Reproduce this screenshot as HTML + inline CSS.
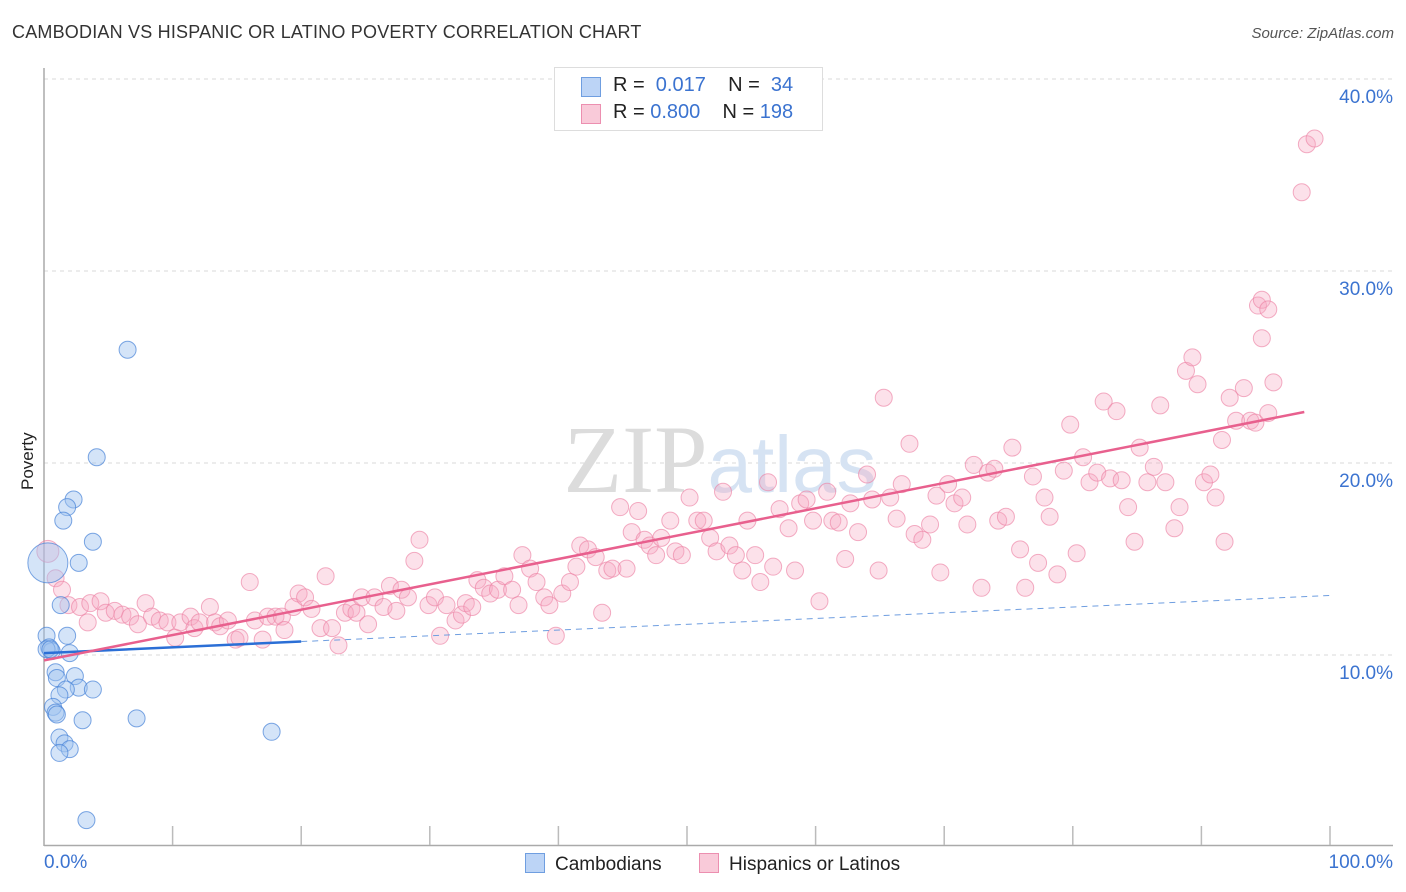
<!DOCTYPE html>
<html><head><meta charset="utf-8"><style>
body{margin:0;background:#fff;font-family:"Liberation Sans",sans-serif;}
#wrap{position:relative;width:1406px;height:892px;overflow:hidden;}
.t{position:absolute;white-space:nowrap;}
</style></head><body>
<div id="wrap">
<div class="t" style="left:12px;top:22px;font-size:18px;color:#333;letter-spacing:0.2px">CAMBODIAN VS HISPANIC OR LATINO POVERTY CORRELATION CHART</div>
<div class="t" style="right:12px;top:25px;font-size:15px;color:#555;font-style:italic">Source: ZipAtlas.com</div>
<svg id="svg" width="1406" height="892" style="position:absolute;left:0;top:0"></svg>
</div>
<script>
const xTicksPct=[0,10,20,30,40,50,60,70,80,90,100];
const yTicks=[10,20,30,40];
const yTickLabels=["10.0%","20.0%","30.0%","40.0%"];
const blueX=[6.5,4.1,2.3,1.8,1.5,3.8,2.7,1.3,1.8,0.2,0.4,0.6,2.0,0.9,1.0,2.4,2.7,3.8,1.7,1.2,0.7,0.9,1.0,3.0,7.2,17.7,1.2,1.6,2.0,1.2,3.3,0.2,0.5,0.3];
const blueY=[25.9,20.3,18.1,17.7,17.0,15.9,14.8,12.6,11.0,11.0,10.4,10.2,10.1,9.1,8.8,8.9,8.3,8.2,8.2,7.9,7.3,7.0,6.9,6.6,6.7,6.0,5.7,5.4,5.1,4.9,1.4,10.3,10.3,14.8];
const pinkX=[0.3,0.9,1.4,1.9,2.8,3.6,4.4,3.4,4.8,5.5,6.1,6.7,7.3,7.9,8.4,9.0,9.6,10.2,10.6,11.4,11.7,12.1,12.9,13.3,13.7,14.3,14.9,15.2,16.0,16.4,17.0,17.4,18.0,18.5,18.7,19.4,19.8,20.3,20.8,21.5,21.9,22.4,22.9,23.4,23.9,24.3,24.7,25.2,25.7,26.4,26.9,27.4,27.8,28.3,28.8,29.2,29.9,30.4,30.8,31.3,32.0,32.5,32.8,33.3,33.7,34.2,34.7,35.3,35.8,36.4,36.9,37.2,37.8,38.3,38.9,39.3,39.8,40.3,40.9,41.4,41.7,42.3,42.9,43.4,43.8,44.2,44.8,45.3,45.7,46.2,46.7,47.1,47.6,48.0,48.7,49.1,49.6,50.2,50.8,51.3,51.8,52.3,52.8,53.3,53.8,54.3,54.7,55.3,55.7,56.3,56.7,57.2,57.9,58.4,58.8,59.3,59.8,60.3,60.9,61.3,61.8,62.3,62.7,63.3,64.0,64.4,64.9,65.3,65.8,66.3,66.7,67.3,67.7,68.3,68.9,69.4,69.7,70.3,70.8,71.4,71.8,72.3,72.9,73.4,73.9,74.2,74.8,75.3,75.9,76.3,76.9,77.3,77.8,78.2,78.8,79.3,79.8,80.3,80.8,81.3,81.9,82.4,82.9,83.4,83.8,84.3,84.8,85.2,85.8,86.3,86.8,87.2,87.9,88.3,88.8,89.3,89.7,90.2,90.7,91.1,91.6,91.8,92.2,92.7,93.3,93.8,94.2,94.7,95.2,95.6,94.4,94.7,95.2,97.8,98.2,98.8];
const pinkY=[15.4,14.0,13.4,12.6,12.5,12.7,12.8,11.7,12.2,12.3,12.1,12.0,11.6,12.7,12.0,11.8,11.7,10.9,11.7,12.0,11.4,11.7,12.5,11.7,11.5,11.8,10.8,10.9,13.8,11.8,10.8,12.0,12.0,12.0,11.3,12.5,13.2,13.0,12.4,11.4,14.1,11.4,10.5,12.2,12.4,12.2,13.0,11.6,13.0,12.5,13.6,12.3,13.4,13.0,14.9,16.0,12.6,13.0,11.0,12.6,11.8,12.1,12.7,12.5,13.9,13.5,13.2,13.4,14.1,13.4,12.6,15.2,14.5,13.8,13.0,12.6,11.0,13.2,13.8,14.6,15.7,15.5,15.1,12.2,14.4,14.5,17.7,14.5,16.4,17.5,16.0,15.7,15.2,16.1,17.0,15.4,15.2,18.2,17.0,17.0,16.1,15.4,18.5,15.7,15.2,14.4,17.0,15.2,13.8,19.0,14.6,17.6,16.6,14.4,17.9,18.1,17.0,12.8,18.5,17.0,16.9,15.0,17.9,16.4,19.4,18.1,14.4,23.4,18.2,17.1,18.9,21.0,16.3,16.0,16.8,18.3,14.3,18.9,17.9,18.2,16.8,19.9,13.5,19.5,19.7,17.0,17.2,20.8,15.5,13.5,19.3,14.8,18.2,17.2,14.2,19.6,22.0,15.3,20.3,19.0,19.5,23.2,19.2,22.7,19.1,17.7,15.9,20.8,19.0,19.8,23.0,19.0,16.6,17.7,24.8,25.5,24.1,19.0,19.4,18.2,21.2,15.9,23.4,22.2,23.9,22.2,22.1,26.5,22.6,24.2,28.2,28.5,28.0,34.1,36.6,36.9];
const blueFit=[10.1,0.03];
const pinkFit=[9.72,0.132];

const L=44,R=1330,B=847,PPU=19.2;
const xs=v=>L+v/100*(R-L);
const ys=v=>B-v*PPU;
const svg=document.getElementById('svg');
const NS='http://www.w3.org/2000/svg';
function mk(tag,attrs){const e=document.createElementNS(NS,tag);for(const k in attrs)e.setAttribute(k,attrs[k]);svg.appendChild(e);return e;}

yTicks.forEach((t,i)=>{
 const g=mk('line',{x1:L,x2:1393,y1:ys(t),y2:ys(t),stroke:'#d8d8d8','stroke-dasharray':'4,4'});
 
 
 const tx=mk('text',{x:1393,y:ys(t)+24,'text-anchor':'end','font-size':19,fill:'#3b73d0','font-family':'Liberation Sans, sans-serif'});
 tx.textContent=yTickLabels[i];
 
 
});
const topGrid=mk('line',{x1:L,x2:1393,y1:79,y2:79,stroke:'#d8d8d8','stroke-dasharray':'4,4'});


const ya=mk('line',{x1:L,x2:L,y1:68,y2:846,stroke:'#aaa','stroke-width':1.5});


const xa=mk('line',{x1:L,x2:1393,y1:845.5,y2:845.5,stroke:'#aaa','stroke-width':1.5});


xTicksPct.forEach(t=>{
 if(t===0)return;
 const k=mk('line',{x1:xs(t),x2:xs(t),y1:826,y2:845,stroke:'#bbb','stroke-width':1.5});
 
 
});
const wm=mk('text',{x:720,y:492,'text-anchor':'middle','font-size':96,fill:'#e6e6e6','font-family':'Liberation Serif, serif'});
wm.innerHTML='<tspan fill="#dcdcdc">ZIP</tspan><tspan fill="#d6e3f3" font-family="Liberation Sans, sans-serif" font-size="80">atlas</tspan>';



pinkX.forEach((x,i)=>{
 const big=i===0;
 const c=mk('circle',{cx:xs(x),cy:ys(pinkY[i]),r:big?11:8.5,fill:'rgba(245,170,195,0.35)',stroke:'rgba(236,130,165,0.65)','stroke-width':1});
 
 
});
blueX.forEach((x,i)=>{
 const big=i===blueX.length-1;
 const c=mk('circle',{cx:xs(x),cy:ys(blueY[i]),r:big?20:8.5,fill:'rgba(160,195,240,0.45)',stroke:'rgba(70,130,215,0.7)','stroke-width':1});
 
 
});
const bl=mk('line',{x1:xs(0),y1:ys(blueFit[0]),x2:xs(20),y2:ys(blueFit[0]+blueFit[1]*20),stroke:'#2b6fd6','stroke-width':2.5});


const bd=mk('line',{x1:xs(20),y1:ys(blueFit[0]+blueFit[1]*20),x2:xs(100),y2:ys(blueFit[0]+blueFit[1]*100),stroke:'#6f9ee0','stroke-width':1,'stroke-dasharray':'6,5'});


const pl=mk('line',{x1:xs(0),y1:ys(pinkFit[0]),x2:xs(98),y2:ys(pinkFit[0]+pinkFit[1]*98),stroke:'#e8608e','stroke-width':2.5});


</script>
<div class="t" style="left:18px;top:490px;transform:rotate(-90deg);transform-origin:0 0;font-size:17px;color:#222">Poverty</div>
<div class="t" style="left:44px;top:852px;font-size:19px;color:#3b73d0">0.0%</div>
<div class="t" style="right:13px;top:852px;font-size:19px;color:#3b73d0">100.0%</div>
<div style="position:absolute;left:554px;top:67px;width:267px;height:62px;border:1px solid #ddd;background:#fff;font-size:20px;">
 <div style="position:absolute;left:26px;top:9px;width:18px;height:18px;background:#bcd4f6;border:1px solid #6f9ee0"></div>
 <div class="t" style="left:58px;top:6px;color:#222">R = <span style="color:#3b73d0">&nbsp;0.017</span>&nbsp;&nbsp;&nbsp; N = <span style="color:#3b73d0">&nbsp;34</span></div>
 <div style="position:absolute;left:26px;top:36px;width:18px;height:18px;background:#f9cad9;border:1px solid #ec8fb0"></div>
 <div class="t" style="left:58px;top:33px;color:#222">R = <span style="color:#3b73d0">0.800</span>&nbsp;&nbsp;&nbsp; N = <span style="color:#3b73d0">198</span></div>
</div>
<div style="position:absolute;left:525px;top:853px;font-size:19px;color:#222">
 <div style="position:absolute;left:0;top:0;white-space:nowrap"><span style="display:inline-block;width:18px;height:18px;background:#bcd4f6;border:1px solid #6f9ee0;vertical-align:-3px;margin-right:10px"></span>Cambodians</div>
 <div style="position:absolute;left:174px;top:0;white-space:nowrap"><span style="display:inline-block;width:18px;height:18px;background:#f9cad9;border:1px solid #ec8fb0;vertical-align:-3px;margin-right:10px"></span>Hispanics or Latinos</div>
</div>
</body></html>
